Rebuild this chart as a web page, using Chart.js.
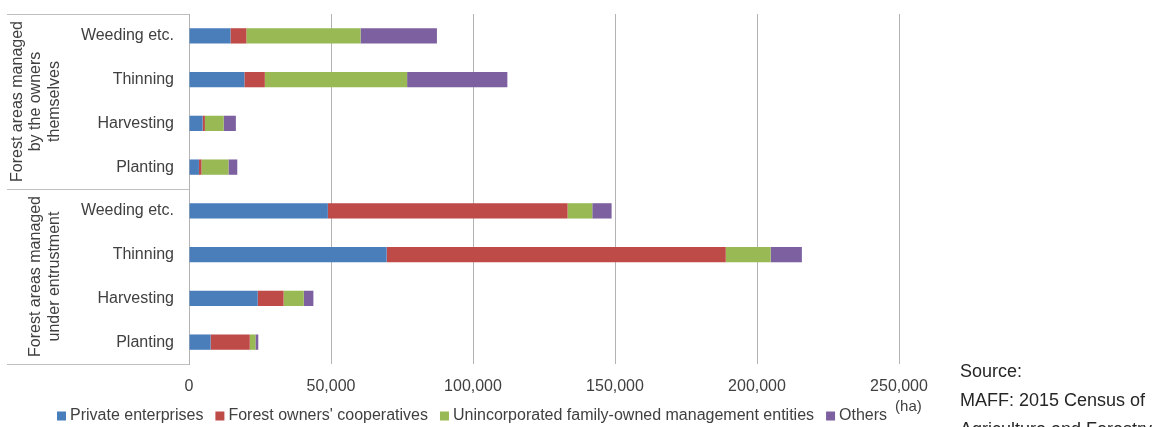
<!DOCTYPE html>
<html>
<head>
<meta charset="utf-8">
<script src="https://cdn.jsdelivr.net/npm/chart.js@4"></script>
<style>
    html, body { margin: 0; padding: 0; background: #fff; }
    #wrap { width: 1170px; height: 427px; position: relative; }
</style>
</head>
<body>
<div id="wrap"><canvas id="chart"></canvas></div>
<script>
// categories, top to bottom
const categories = ["Weeding etc.", "Thinning", "Harvesting", "Planting",
    "Weeding etc.", "Thinning", "Harvesting", "Planting"];
const groupTitles = [
    ["Forest areas managed", "by the owners", "themselves"],
    ["Forest areas managed", "under entrustment"],
];
const groupSizes = [4, 4];

// area in ha
const privateEnterprises = [14600, 19500, 4800, 3500, 48900, 69600, 24200, 7600];
const ownersCooperatives = [5600, 7200, 800, 900, 84400, 119400, 9100, 13800];
const familyEntities = [40200, 50100, 6600, 9500, 8700, 15800, 7100, 2000];
const others = [26900, 35300, 4300, 3100, 6800, 11000, 3400, 1000];

const xTicks = [0, 50000, 100000, 150000, 200000, 250000];
const unitLabel = "(ha)";
const sourceLines = ["Source:", "MAFF: 2015 Census of", "Agriculture and Forestry"];

const FONT = "'Liberation Sans', Arial, sans-serif";
const TEXT = "#404040";

Chart.defaults.font.family = FONT;
Chart.defaults.font.size = 16;
Chart.defaults.color = TEXT;

// box, group labels, legend and source note
const decor = {
    id: "decor",
    afterDraw(chart) {
        const ctx = chart.ctx;
        const area = chart.chartArea;
        const y = chart.scales.y;
        ctx.save();

        // category group box on the left
        const boxLeft = 7;
        const cuts = [area.top];
        let idx = 0;
        groupSizes.forEach((n) => {
            idx += n;
            if (idx < categories.length) {
                cuts.push(Math.round((y.getPixelForValue(idx - 1) + y.getPixelForValue(idx)) / 2));
            }
        });
        cuts.push(area.bottom);
        ctx.strokeStyle = "#c0c0c0";
        ctx.lineWidth = 1;
        cuts.forEach((cy) => {
            ctx.beginPath();
            ctx.moveTo(boxLeft, Math.round(cy) + 0.5);
            ctx.lineTo(area.left, Math.round(cy) + 0.5);
            ctx.stroke();
        });

        // rotated group titles
        ctx.fillStyle = TEXT;
        ctx.font = "16px " + FONT;
        ctx.textAlign = "center";
        ctx.textBaseline = "middle";
        const lineX = [17.5, 36, 54.5];
        groupTitles.forEach((lines, g) => {
            const cy = (cuts[g] + cuts[g + 1]) / 2;
            const offset = lineX.length - lines.length;
            lines.forEach((txt, i) => {
                ctx.save();
                ctx.translate(lineX[i + offset], cy);
                ctx.rotate(-Math.PI / 2);
                ctx.fillText(txt, 0, 0);
                ctx.restore();
            });
        });

        // legend
        const legendY = 416;
        let lx = 57;
        ctx.textAlign = "left";
        chart.data.datasets.forEach((ds) => {
            ctx.fillStyle = ds.backgroundColor;
            ctx.fillRect(lx, legendY - 4.5, 9, 9);
            lx += 13;
            ctx.fillStyle = TEXT;
            ctx.fillText(ds.label, lx, legendY);
            lx += ctx.measureText(ds.label).width + 12;
        });
        ctx.font = "15px " + FONT;
        ctx.fillText(unitLabel, lx - 4, 407);

        // source note
        ctx.fillStyle = "#262626";
        ctx.font = "18px " + FONT;
        ctx.textBaseline = "alphabetic";
        sourceLines.forEach((txt, i) => {
            ctx.fillText(txt, 960, 376.5 + i * 29);
        });
        ctx.restore();
    },
};

new Chart(document.getElementById("chart"), {
    type: "bar",
    data: {
        labels: categories,
        datasets: [
            { label: "Private enterprises", data: privateEnterprises, backgroundColor: "#4a7ebb" },
            { label: "Forest owners' cooperatives", data: ownersCooperatives, backgroundColor: "#be4b48" },
            { label: "Unincorporated family-owned management entities", data: familyEntities, backgroundColor: "#98b954" },
            { label: "Others", data: others, backgroundColor: "#7d60a0" },
        ],
    },
    options: {
        indexAxis: "y",
        responsive: true,
        maintainAspectRatio: false,
        animation: false,
        categoryPercentage: 1,
        barPercentage: 0.35,
        layout: { padding: { top: 14, right: 271, left: 0, bottom: 0 } },
        plugins: {
            legend: { display: false },
            tooltip: { enabled: false },
        },
        scales: {
            x: {
                stacked: true,
                min: xTicks[0],
                max: xTicks[xTicks.length - 1],
                afterBuildTicks: (scale) => {
                    scale.ticks = xTicks.map((v) => ({ value: v }));
                },
                afterFit: (scale) => {
                    scale.height = 63;
                    scale.paddingLeft = 0;
                    scale.paddingRight = 0;
                },
                grid: { color: "#b3b3b3", drawTicks: false },
                border: { display: false },
                ticks: {
                    padding: 13,
                    color: TEXT,
                    font: { size: 16 },
                    callback: (v) => v.toLocaleString("en-US"),
                },
            },
            y: {
                stacked: true,
                afterFit: (scale) => {
                    scale.width = 189;
                    scale.paddingTop = 0;
                    scale.paddingBottom = 0;
                },
                grid: { display: false, drawTicks: false },
                border: { display: true, color: "#b3b3b3" },
                ticks: { padding: 15, color: TEXT, font: { size: 16 } },
            },
        },
    },
    plugins: [decor],
});
</script>
</body>
</html>
